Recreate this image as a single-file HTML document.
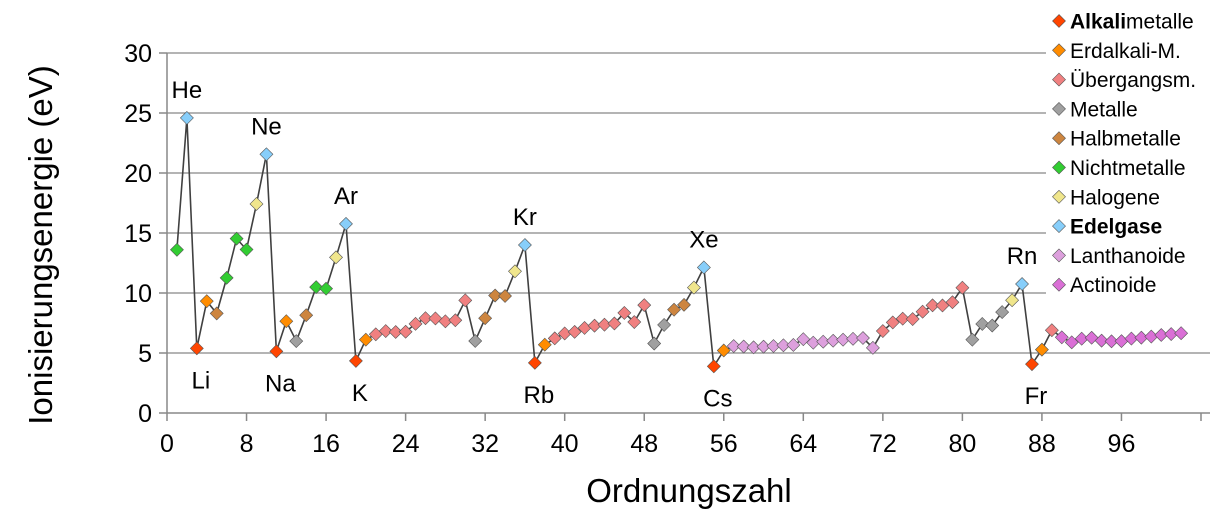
<!DOCTYPE html>
<html><head><meta charset="utf-8">
<style>
body{margin:0;background:#fff;width:1228px;height:525px;overflow:hidden;font-family:"Liberation Sans",Arial,sans-serif;}
svg text{font-family:"Liberation Sans",Arial,sans-serif;}
</style></head>
<body>
<svg id="chart" width="1228" height="525" viewBox="0 0 1228 525" xmlns="http://www.w3.org/2000/svg">
<defs><clipPath id="lc"><rect x="1040" y="0" width="170" height="310"/></clipPath></defs>
<g id="grid"></g>
<g id="axes"></g>
<path id="line" fill="none" stroke="#404040" stroke-width="1.6"></path>
<g id="marks"></g>
<g id="labels"></g>
<g id="legend" clip-path="url(#lc)"></g>
<text x="52" y="245" font-size="33" text-anchor="middle" transform="rotate(-90 52 245)">Ionisierungsenergie (eV)</text>
<text x="689" y="502" font-size="33" text-anchor="middle">Ordnungszahl</text>
</svg>
<script>
const energies=[13.6,24.59,5.39,9.32,8.30,11.26,14.53,13.62,17.42,21.56,
5.14,7.65,5.99,8.15,10.49,10.36,12.97,15.76,4.34,6.11,
6.56,6.83,6.75,6.77,7.43,7.90,7.88,7.64,7.73,9.39,
6.00,7.90,9.79,9.75,11.81,14.00,4.18,5.69,6.22,6.63,
6.76,7.09,7.28,7.36,7.46,8.34,7.58,8.99,5.79,7.34,
8.61,9.01,10.45,12.13,3.89,5.21,5.58,5.54,5.47,5.53,
5.58,5.64,5.67,6.15,5.86,5.94,6.02,6.11,6.18,6.25,
5.43,6.83,7.55,7.86,7.83,8.44,8.97,8.96,9.23,10.44,
6.11,7.42,7.29,8.41,9.40,10.75,4.07,5.28,6.9,6.31,
5.89,6.19,6.27,6.03,5.97,5.99,6.20,6.28,6.37,6.50,6.58,6.65];
const groups=[5,7,0,1,4,5,5,5,6,7,
0,1,3,4,5,5,6,7,0,1,
2,2,2,2,2,2,2,2,2,2,
3,4,4,4,6,7,0,1,2,2,
2,2,2,2,2,2,2,2,3,3,
4,4,6,7,0,1,8,8,8,8,
8,8,8,8,8,8,8,8,8,8,
8,2,2,2,2,2,2,2,2,2,
3,3,3,3,6,7,0,1,2,9,
9,9,9,9,9,9,9,9,9,9,9,9];
const groupNames=["Alkalimetalle","Erdalkali-M.","Übergangsm.","Metalle","Halbmetalle","Nichtmetalle","Halogene","Edelgase","Lanthanoide","Actinoide"];
const groupColors=["#ff4500","#ff8c00","#f08080","#a0a0a0","#cd853f","#32cd32","#f0e68c","#87cefa","#dda0dd","#da70d6"];
const xTicks=[0,8,16,24,32,40,48,56,64,72,80,88,96,104];
const yTicks=[0,5,10,15,20,25,30];
const labelZ=[2,3,10,11,18,19,36,37,54,55,86,87];
const labelText=["He","Li","Ne","Na","Ar","K","Kr","Rb","Xe","Cs","Rn","Fr"];
const labelAbove=[1,0,1,0,1,0,1,0,1,0,1,0];

const NS="http://www.w3.org/2000/svg";
const X0=167,X1=1201,Y0=413,Y1=53;
const xs=v=>X0+(v/104)*(X1-X0);
const ys=v=>Y0-(v/30)*(Y0-Y1);
function mk(tag,attrs,parent){const e=document.createElementNS(NS,tag);for(const k in attrs)e.setAttribute(k,attrs[k]);parent.appendChild(e);return e;}
const grid=document.getElementById('grid'),axes=document.getElementById('axes');
yTicks.forEach(t=>{
  if(t>0){const g=mk('line',{x1:X0,x2:1210,y1:ys(t),y2:ys(t),stroke:'#888','stroke-width':1.3},grid);
  
  }
  const tk=mk('line',{x1:X0-8,x2:X0,y1:ys(t),y2:ys(t),stroke:'#888','stroke-width':1.5},axes);
  
  
  const tx=mk('text',{x:X0-15,y:ys(t)+9,'font-size':25,'text-anchor':'end'},axes);tx.textContent=t;
  
  
});
const ya=mk('line',{x1:X0,x2:X0,y1:Y1,y2:Y0,stroke:'#888','stroke-width':1.5},axes);


const xa=mk('line',{x1:X0,x2:1210,y1:Y0,y2:Y0,stroke:'#888','stroke-width':1.5},axes);


xTicks.forEach(t=>{
  const tk=mk('line',{x1:xs(t),x2:xs(t),y1:Y0,y2:Y0+8,stroke:'#888','stroke-width':1.5},axes);
  
  
  if(t<104){const tx=mk('text',{x:xs(t),y:Y0+39,'font-size':25,'text-anchor':'middle'},axes);tx.textContent=t;
  
  }
});
let d='';
energies.forEach((v,i)=>{d+=(i?'L':'M')+xs(i+1).toFixed(1)+','+ys(v).toFixed(1);});
document.getElementById('line').setAttribute('d',d);
const marks=document.getElementById('marks');
function diamond(cx,cy,r){return `M${cx},${cy-r}L${cx+r},${cy}L${cx},${cy+r}L${cx-r},${cy}Z`;}
energies.forEach((v,i)=>{
  const p=mk('path',{d:diamond(xs(i+1),ys(v),6.5),fill:groupColors[groups[i]],stroke:'#555','stroke-width':0.6},marks);
  
  
});
const labels=document.getElementById('labels');
labelZ.forEach((z,i)=>{
  const x=xs(z),y=ys(energies[z-1]);
  const t=mk('text',{x:x+(labelAbove[i]?0:4),y:labelAbove[i]?y-20:y+40,'font-size':24,'text-anchor':'middle'},labels);
  t.textContent=labelText[i];
  
  
});
const legend=document.getElementById('legend');
mk('rect',{x:1046,y:4,width:182,height:296,fill:'#fff'},legend);
groupNames.forEach((n,i)=>{
  const cy=21+i*29.3;
  const m=mk('path',{d:diamond(1059,cy,6.5),fill:groupColors[i],stroke:'#555','stroke-width':0.6},legend);
  
  
  const t=mk('text',{x:1070,y:cy+7.5,'font-size':21},legend);
  
  
  if(i===0){t.innerHTML='<tspan font-weight="bold">Alkali</tspan>metalle';}
  else if(i===7){t.setAttribute('font-weight','bold');t.textContent=n;}
  else t.textContent=n;
});
</script>
</body></html>
